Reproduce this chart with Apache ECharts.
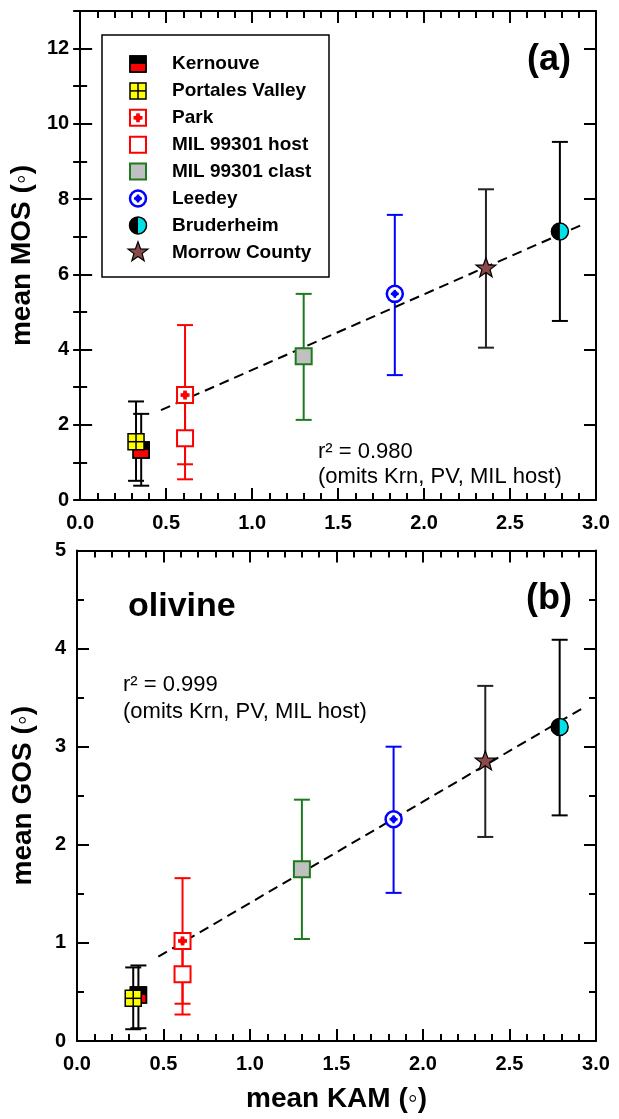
<!DOCTYPE html>
<html><head><meta charset="utf-8">
<script src="https://cdn.jsdelivr.net/npm/echarts@6/dist/echarts.min.js"></script>
<style>html,body{margin:0;padding:0;background:#fff}#c{width:619px;height:1119px}</style>
</head><body><div id="c"></div>
<script>
// ---------- DATA ----------
const samples = ['Kernouve','Portales Valley','Park','MIL 99301 host','MIL 99301 clast','Leedey','Bruderheim','Morrow County'];
const kam     = [0.355, 0.325, 0.61, 0.61, 1.30, 1.83, 2.79, 2.36];
const mos     = [1.33, 1.55, 2.79, 1.64, 3.82, 5.48, 7.14, 6.16];
const mosLow  = [0.38, 0.51, 0.95, 0.55, 2.13, 3.32, 4.76, 4.05];
const mosHigh = [2.29, 2.62, 4.65, 2.73, 5.48, 7.58, 9.52, 8.26];
const gos     = [0.47, 0.435, 1.02, 0.68, 1.75, 2.26, 3.20, 2.85];
const gosLow  = [0.13, 0.12, 0.38, 0.27, 1.04, 1.51, 2.30, 2.08];
const gosHigh = [0.77, 0.75, 1.66, 1.09, 2.46, 3.00, 4.09, 3.62];
const fitA = [[0.47, 2.39], [2.92, 7.32]];
const fitB = [[0.47, 0.86], [2.92, 3.39]];
const barColors = ['#000000','#000000','#ff0000','#ff0000','#1e7a1e','#0000ff','#000000','#222222'];

// ---------- STYLE ----------
const FONT = 'Liberation Sans, Arial, Helvetica, sans-serif';

function markerShapes(cx, cy, k) {
  const s = 8;
  const sq = (fill, stroke, lw) => ({type:'rect', shape:{x:cx-s, y:cy-s, width:2*s, height:2*s}, style:{fill, stroke, lineWidth:lw}});
  switch (k) {
    case 0: return [
      sq('#ff0000', '#000', 1.5),
      {type:'rect', shape:{x:cx-s, y:cy-s, width:2*s, height:s}, style:{fill:'#000'}},
      {type:'rect', shape:{x:cx-s, y:cy-s, width:2*s, height:2*s}, style:{fill:'none', stroke:'#000', lineWidth:1.5}}
    ];
    case 1: return [
      sq('#ffff00', '#000', 1.5),
      {type:'line', shape:{x1:cx, y1:cy-s, x2:cx, y2:cy+s}, style:{stroke:'#000', lineWidth:1.5}},
      {type:'line', shape:{x1:cx-s, y1:cy, x2:cx+s, y2:cy}, style:{stroke:'#000', lineWidth:1.5}}
    ];
    case 2: return [
      sq('#ffffff', '#ff0000', 2),
      {type:'rect', shape:{x:cx-1.8, y:cy-4.5, width:3.6, height:9}, style:{fill:'#ff0000'}},
      {type:'rect', shape:{x:cx-4.5, y:cy-1.8, width:9, height:3.6}, style:{fill:'#ff0000'}},
      {type:'circle', shape:{cx, cy, r:3}, style:{fill:'#ff0000'}}
    ];
    case 3: return [sq('#ffffff', '#ff0000', 2)];
    case 4: return [sq('#c0c0c0', '#1e7a1e', 2)];
    case 5: return [
      {type:'circle', shape:{cx, cy, r:8}, style:{fill:'#fff', stroke:'#0000ff', lineWidth:2.5}},
      {type:'circle', shape:{cx, cy, r:3}, style:{fill:'#0000ff'}},
      {type:'rect', shape:{x:cx-1.2, y:cy-4, width:2.4, height:8}, style:{fill:'#0000ff'}},
      {type:'rect', shape:{x:cx-4, y:cy-1.2, width:8, height:2.4}, style:{fill:'#0000ff'}}
    ];
    case 6: return [
      {type:'circle', shape:{cx, cy, r:8.5}, style:{fill:'#00e0e8'}},
      {type:'sector', shape:{cx, cy, r0:0, r:8.5, startAngle:Math.PI/2, endAngle:Math.PI*1.5, clockwise:true}, style:{fill:'#000'}},
      {type:'circle', shape:{cx, cy, r:8.5}, style:{fill:'none', stroke:'#000', lineWidth:1.5}}
    ];
    case 7: {
      const pts = [];
      for (let i = 0; i < 10; i++) {
        const r = i % 2 === 0 ? 10.5 : 4.3;
        const a = -Math.PI/2 + i*Math.PI/5;
        pts.push([cx + r*Math.cos(a), cy + r*Math.sin(a)]);
      }
      return [{type:'polygon', shape:{points:pts}, style:{fill:'#8b4a4a', stroke:'#000', lineWidth:1.2}}];
    }
  }
  return [];
}

function xAx(grid, pos, labels, name) {
  return {
    type:'value', gridIndex:grid, position:pos, min:0, max:3, interval:0.5,
    axisLine:{show:true, onZero:false, lineStyle:{color:'#000', width:2}},
    axisTick:{show:true, inside:true, length:12, lineStyle:{color:'#000', width:2}},
    minorTick:{show:true, splitNumber:5, length:7, lineStyle:{color:'#000', width:2}},
    splitLine:{show:false}, minorSplitLine:{show:false},
    axisLabel:{show:labels, margin:13, fontFamily:FONT, fontWeight:'bold', fontSize:20, color:'#000',
      showMinLabel:true, showMaxLabel:true, formatter:v => v.toFixed(1)},
    name:name || '', nameLocation:'middle', nameGap:44,
    nameTextStyle:{fontFamily:FONT, fontWeight:'bold', fontSize:28, color:'#000'}
  };
}
function yAx(grid, pos, max, interval, tickLen, opts) {
  const o = {
    type:'value', gridIndex:grid, position:pos, min:0, max:max, interval:interval,
    axisLine:{show:true, onZero:false, lineStyle:{color:'#000', width:2}},
    axisTick:{show:true, inside:true, length:tickLen, lineStyle:{color:'#000', width:2}},
    minorTick:{show:false},
    splitLine:{show:false}, minorSplitLine:{show:false},
    axisLabel:{show:false}
  };
  return Object.assign(o, opts || {});
}
const yLabel = (fmt) => ({show:true, margin:11, fontFamily:FONT, fontWeight:'bold', fontSize:20, color:'#000',
  showMinLabel:true, showMaxLabel:true, formatter:fmt});
const yName = (n) => ({name:n, nameLocation:'middle', nameGap:40,
  nameTextStyle:{fontFamily:FONT, fontWeight:'bold', fontSize:28, color:'#000'}});

const errData = (lo, hi) => kam.map((x, i) => [x, lo[i], hi[i], i]);
const markData = (y) => kam.map((x, i) => [x, y[i], i]);

function errSeries(xi, yi, lo, hi) {
  return {
    type:'custom', xAxisIndex:xi, yAxisIndex:yi, z:1, clip:false, silent:true,
    data:errData(lo, hi),
    renderItem:(params, api) => {
      const x = api.value(0);
      const a = api.coord([x, api.value(1)]);
      const b = api.coord([x, api.value(2)]);
      const col = barColors[api.value(3)];
      const w = 8, st = {stroke:col, lineWidth:2};
      return {type:'group', children:[
        {type:'line', shape:{x1:a[0], y1:a[1], x2:b[0], y2:b[1]}, style:st},
        {type:'line', shape:{x1:a[0]-w, y1:a[1], x2:a[0]+w, y2:a[1]}, style:st},
        {type:'line', shape:{x1:b[0]-w, y1:b[1], x2:b[0]+w, y2:b[1]}, style:st}
      ]};
    }
  };
}
function markSeries(xi, yi, y) {
  return {
    type:'custom', xAxisIndex:xi, yAxisIndex:yi, z:3, clip:false, silent:true,
    data:markData(y),
    renderItem:(params, api) => {
      const p = api.coord([api.value(0), api.value(1)]);
      return {type:'group', children:markerShapes(p[0], p[1], api.value(2))};
    }
  };
}
function fitSeries(xi, yi, d) {
  return {type:'line', xAxisIndex:xi, yAxisIndex:yi, z:2, data:d, symbol:'none', silent:true,
    lineStyle:{color:'#000', width:2, type:[10, 6]}};
}

// legend (graphic)
const legendChildren = [{type:'rect', shape:{x:102, y:35, width:227, height:242},
  style:{fill:'#fff', stroke:'#000', lineWidth:1.5}}];
samples.forEach((name, i) => {
  const cy = 64 + i*26.9;
  markerShapes(138, cy, i).forEach(s => legendChildren.push(s));
  legendChildren.push({type:'text', x:172, y:cy, style:{text:name, fill:'#000',
    font:'bold 19px ' + FONT, textVerticalAlign:'middle', verticalAlign:'middle'}});
});

const txt = (x, y, text, font, align) => ({type:'text', x, y, z:10,
  style:{text, fill:'#000', font, textAlign:align || 'left', align:align || 'left',
    textVerticalAlign:'middle', verticalAlign:'middle'}});

const option = {
  animation:false,
  backgroundColor:'#fff',
  grid:[
    {left:77, top:11, width:519, height:489, containLabel:false},
    {left:77, top:550.5, width:519, height:490.5, containLabel:false}
  ],
  xAxis:[
    xAx(0, 'bottom', true),
    xAx(0, 'top', false),
    xAx(1, 'bottom', true, 'mean KAM (\u25E6)'),
    xAx(1, 'top', false)
  ],
  yAxis:[
    yAx(0, 'left', 13, 2, 12, Object.assign({axisLabel:yLabel(v => (v % 2 === 0 ? String(v) : ''))}, yName('mean MOS (\u25E6)'))),
    yAx(0, 'left', 13, 1, 7, {axisLine:{show:false}}),
    yAx(0, 'right', 13, 2, 12),
    yAx(0, 'right', 13, 1, 7, {axisLine:{show:false}}),
    yAx(1, 'left', 5, 1, 12, Object.assign({axisLabel:yLabel(v => String(v)),
      minorTick:{show:true, splitNumber:2, length:7, lineStyle:{color:'#000', width:2}}}, yName('mean GOS (\u25E6)'))),
    yAx(1, 'right', 5, 1, 12, {minorTick:{show:true, splitNumber:2, length:7, lineStyle:{color:'#000', width:2}}})
  ],
  series:[
    errSeries(0, 0, mosLow, mosHigh),
    fitSeries(0, 0, fitA),
    markSeries(0, 0, mos),
    errSeries(2, 4, gosLow, gosHigh),
    fitSeries(2, 4, fitB),
    markSeries(2, 4, gos)
  ],
  graphic:[
    {type:'group', z:20, children:legendChildren},
    txt(549, 60, '(a)', 'bold 36px ' + FONT, 'center'),
    txt(549, 599, '(b)', 'bold 36px ' + FONT, 'center'),
    txt(128, 607, 'olivine', 'bold 34px ' + FONT),
    txt(318, 452, 'r\u00B2 = 0.980', '22px ' + FONT),
    txt(318, 477, '(omits Krn, PV, MIL host)', '22px ' + FONT),
    txt(123, 685, 'r\u00B2 = 0.999', '22px ' + FONT),
    txt(123, 712, '(omits Krn, PV, MIL host)', '22px ' + FONT)
  ]
};
const chart = echarts.init(document.getElementById('c'), null, {renderer:'canvas', width:619, height:1119});
chart.setOption(option);
</script>
</body></html>
